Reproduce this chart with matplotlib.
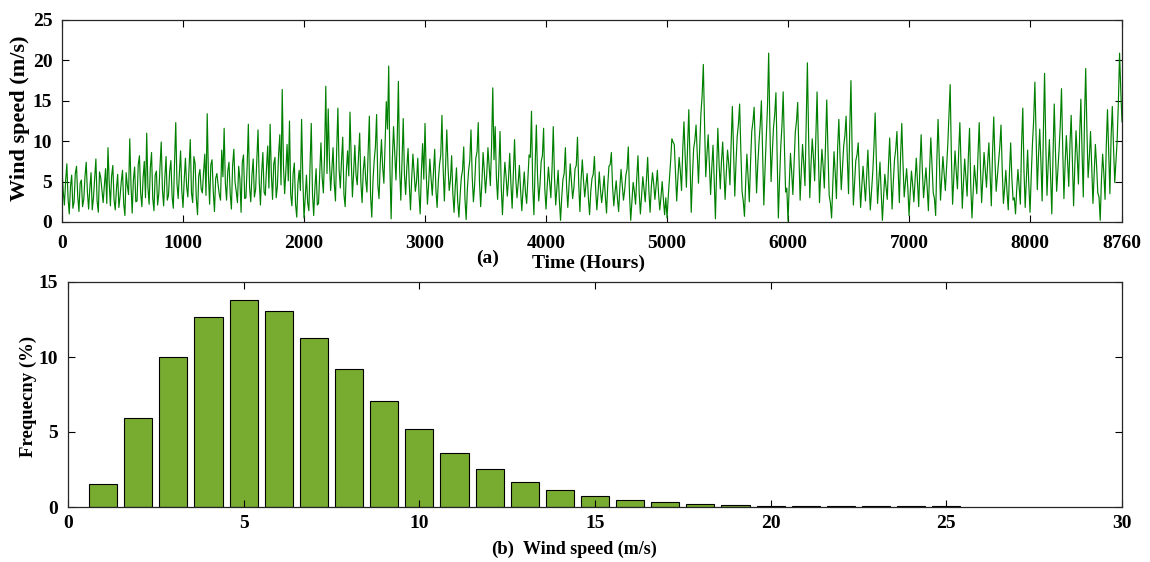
import numpy as np
import matplotlib
matplotlib.use("Agg")
import matplotlib.pyplot as plt

plt.rcParams['font.family'] = ['Liberation Serif', 'DejaVu Serif']
plt.rcParams['font.weight'] = 'bold'

# ---- wind speed samples (10-hour spacing) ----
# values at hours 0, 20, 40, ...
wind_speed_even = [
    # 0 - 980
    6.5, 2.1, 7.2, 1.0, 5.8, 2.5, 6.9, 1.3, 5.2, 2.8, 7.4, 1.6, 6.1, 3.0, 7.8, 1.2, 5.5, 2.4, 6.6, 9.2,
    2.0, 7.0, 1.5, 5.9, 3.2, 6.4, 0.8, 4.5, 10.3, 1.1, 6.8, 2.6, 8.2, 1.9, 7.5, 11.0, 2.2, 8.6, 1.4, 6.3,
    3.5, 9.9, 2.0, 8.1, 3.3, 7.6, 1.7, 12.3, 2.9, 8.8,
    # 1000 - 1980
    1.8, 7.9, 3.1, 10.2, 2.4, 7.2, 0.9, 6.5, 3.6, 8.4, 13.4, 2.2, 7.7, 1.3, 6.0, 3.4, 8.9, 11.6, 2.7, 7.4,
    1.6, 9.0, 3.8, 6.9, 1.2, 8.3, 3.0, 12.1, 2.5, 7.8, 4.0, 11.4, 2.1, 8.6, 3.3, 9.4, 12.1, 2.8, 8.0, 4.4,
    10.8, 16.4, 3.5, 9.6, 12.5, 2.0, 7.3, 0.6, 6.4, 12.7,
    # 2000 - 2980
    0.5, 5.8, 1.4, 12.2, 0.8, 6.6, 2.3, 9.8, 3.6, 16.8, 14.0, 3.9, 9.2, 2.6, 14.1, 4.2, 10.5, 1.9, 8.8, 13.6,
    3.1, 9.5, 4.6, 11.0, 2.4, 8.1, 3.7, 13.1, 0.6, 7.6, 13.3, 2.9, 10.2, 4.8, 14.9, 19.3, 0.4, 11.8, 5.2, 17.4,
    2.7, 12.8, 3.4, 9.1, 1.5, 8.4, 3.8, 7.9, 1.0, 9.7,
    # 3000 - 3980
    12.2, 2.2, 7.8, 3.3, 9.0, 1.8, 7.1, 13.2, 2.6, 11.4, 3.9, 8.2, 1.2, 6.7, 0.6, 5.5, 9.3, 0.3, 6.3, 11.4,
    2.5, 7.9, 12.3, 1.9, 8.6, 3.6, 9.2, 4.5, 16.6, 11.8, 2.8, 11.2, 0.9, 7.4, 3.2, 8.5, 1.7, 10.2, 3.0, 7.0,
    1.4, 6.2, 2.3, 8.3, 13.7, 0.9, 12.0, 2.6, 7.5, 11.6,
    # 4000 - 4980
    1.6, 6.8, 3.0, 11.8, 2.1, 6.4, 0.2, 5.3, 9.2, 1.8, 7.2, 2.9, 6.6, 10.5, 1.3, 7.7, 3.1, 6.0, 0.9, 5.4,
    8.1, 1.5, 6.2, 2.4, 5.7, 1.1, 6.9, 8.6, 2.0, 5.1, 1.3, 6.5, 2.7, 5.8, 9.3, 0.2, 4.9, 2.2, 8.2, 1.0,
    5.6, 2.5, 8.0, 1.2, 6.1, 2.8, 6.4, 1.5, 5.0, 0.9,
    # 5000 - 5980
    0.5, 5.4, 10.3, 9.6, 2.6, 8.0, 3.9, 12.4, 4.3, 13.9, 1.2, 9.1, 12.0, 4.8, 13.4, 19.5, 5.6, 10.8, 3.4, 9.5,
    0.4, 11.6, 4.1, 9.9, 2.8, 8.9, 4.6, 14.3, 3.2, 10.6, 14.6, 3.8, 0.7, 8.4, 2.5, 11.2, 14.2, 3.6, 9.8, 15.0,
    2.1, 10.4, 20.9, 5.0, 11.7, 16.0, 0.5, 9.3, 16.1, 3.7,
    # 6000 - 6980
    0.1, 8.5, 3.4, 11.1, 14.8, 2.7, 9.6, 4.5, 19.7, 3.0, 10.3, 5.1, 16.1, 2.4, 9.0, 4.2, 15.1, 3.3, 0.5, 8.7,
    2.9, 12.7, 4.0, 9.4, 13.1, 3.5, 17.5, 2.1, 7.6, 9.8, 1.8, 6.9, 2.6, 8.9, 1.5, 6.1, 13.5, 2.3, 7.4, 0.2,
    5.9, 2.8, 10.4, 1.6, 7.7, 11.2, 2.4, 12.2, 3.1, 6.6,
    # 7000 - 7980
    0.8, 6.3, 2.5, 7.9, 1.9, 10.8, 3.0, 6.7, 1.4, 10.4, 3.6, 0.8, 12.7, 2.7, 8.1, 3.9, 9.5, 17.0, 2.2, 8.8,
    4.1, 12.3, 1.7, 7.8, 3.2, 11.6, 0.5, 7.0, 3.5, 12.3, 2.4, 8.6, 4.3, 9.8, 2.0, 13.0, 3.8, 7.5, 12.0, 2.3,
    6.4, 1.5, 9.8, 2.7, 1.0, 6.5, 2.2, 14.1, 1.8, 8.9,
    # 8000 - 8760
    1.2, 9.7, 17.3, 4.0, 11.5, 2.6, 18.4, 3.3, 10.2, 1.0, 14.6, 3.8, 9.0, 16.5, 2.9, 10.7, 4.4, 13.2, 2.0, 11.3,
    4.7, 15.2, 3.1, 19.0, 5.5, 11.2, 2.3, 9.6, 3.6, 0.2, 8.4, 2.8, 13.9, 3.5, 14.3, 4.9, 10.1, 20.9, 12.4,
]
# values at hours 10, 30, 50, ...
wind_speed_odd = [
    # 10 - 990
    3.8, 5.1, 2.9, 4.4, 1.7, 6.0, 3.2, 4.8, 1.9, 5.6, 3.7, 4.2, 1.5, 5.3, 2.6, 6.2, 3.9, 4.5, 2.3, 4.9,
    5.7, 2.8, 4.1, 1.8, 5.0, 2.2, 6.1, 3.4, 4.6, 5.2, 2.5, 7.1, 3.6, 5.4, 3.0, 4.3, 6.7, 2.9, 5.8, 2.1,
    6.9, 4.0, 5.5, 2.7, 6.3, 3.1, 7.3, 4.8, 6.0, 3.9,
    # 1010 - 1990
    5.2, 4.4, 6.8, 3.6, 8.1, 2.9, 5.7, 4.1, 6.2, 3.3, 5.9, 7.1, 3.8, 5.4, 4.6, 2.7, 5.6, 4.8, 6.3, 3.5,
    7.0, 4.9, 2.4, 5.3, 7.4, 2.9, 6.9, 4.3, 5.8, 3.1, 7.6, 5.0, 6.1, 3.7, 6.7, 4.2, 5.9, 7.2, 3.0, 8.4,
    4.6, 7.0, 6.3, 5.1, 3.4, 6.0, 2.2, 4.8, 3.9, 5.5,
    # 2010 - 2990
    3.0, 2.4, 7.1, 3.5, 4.2, 2.1, 6.2, 5.5, 8.3, 6.0, 7.7, 6.4, 4.8, 8.9, 6.5, 7.6, 3.4, 6.3, 5.7, 7.9,
    6.1, 5.8, 8.0, 4.9, 6.4, 5.2, 8.7, 3.3, 5.1, 9.3, 4.6, 7.2, 6.8, 9.6, 11.5, 6.7, 7.8, 8.5, 9.9, 6.6,
    7.5, 5.9, 6.8, 4.7, 5.4, 6.1, 5.0, 3.6, 6.2, 5.3,
    # 3010 - 3990
    6.0, 4.7, 5.4, 6.2, 4.0, 5.1, 8.3, 6.5, 7.0, 6.8, 5.2, 3.5, 4.4, 2.6, 3.3, 6.4, 2.9, 4.1, 7.6, 5.6,
    4.6, 8.7, 5.0, 4.9, 6.3, 5.8, 6.9, 9.4, 7.7, 5.5, 6.6, 4.3, 4.5, 5.6, 5.3, 4.7, 6.1, 5.4, 4.8, 3.9,
    4.0, 3.7, 5.2, 8.0, 4.4, 6.9, 5.7, 4.6, 8.2, 4.1,
    # 4010 - 4990
    4.5, 4.9, 6.7, 5.5, 4.3, 2.8, 3.1, 6.0, 4.4, 4.6, 5.0, 4.2, 7.0, 4.8, 5.3, 5.1, 4.7, 3.0, 3.8, 5.9,
    4.1, 3.6, 4.0, 3.9, 3.2, 4.5, 7.1, 4.4, 3.7, 2.9, 4.2, 4.6, 3.9, 6.6, 3.4, 2.6, 3.8, 5.5, 3.6, 3.4,
    4.1, 5.2, 3.9, 4.3, 4.7, 4.5, 3.5, 3.1, 2.8, 3.0,
    # 5010 - 5990
    3.1, 7.6, 9.9, 6.2, 5.5, 6.3, 9.0, 8.1, 9.4, 7.4, 5.6, 10.1, 8.3, 9.2, 15.6, 12.2, 8.4, 7.0, 6.7, 5.2,
    6.5, 7.3, 7.5, 6.4, 6.1, 7.2, 9.8, 8.6, 7.3, 12.1, 8.9, 2.6, 4.9, 5.6, 7.2, 12.4, 8.7, 7.1, 12.0, 8.3,
    6.6, 14.2, 11.8, 8.6, 13.3, 7.9, 5.2, 12.0, 9.4, 4.2,
    # 6010 - 6990
    4.6, 6.2, 7.4, 12.5, 8.3, 6.4, 7.2, 11.8, 10.6, 7.1, 8.0, 10.4, 8.9, 6.0, 6.9, 9.6, 8.8, 2.4, 4.7, 6.1,
    9.2, 8.0, 6.8, 10.7, 7.9, 11.5, 8.6, 4.9, 8.3, 5.4, 4.5, 4.8, 5.9, 4.7, 3.8, 9.3, 7.6, 5.0, 3.6, 3.2,
    4.4, 7.0, 5.8, 4.9, 9.0, 6.5, 8.1, 7.3, 4.9, 4.2,
    # 7010 - 7990
    3.7, 4.6, 5.3, 4.8, 6.9, 6.4, 4.9, 4.2, 6.5, 7.1, 2.9, 7.8, 7.5, 5.5, 6.0, 6.8, 13.2, 8.1, 5.6, 6.3,
    8.5, 6.9, 4.9, 5.4, 8.0, 4.6, 3.9, 5.2, 8.4, 6.7, 5.6, 6.5, 7.4, 5.9, 8.6, 7.7, 5.6, 9.3, 6.6, 4.2,
    3.7, 6.1, 5.4, 3.0, 4.1, 4.3, 9.6, 6.3, 5.5, 4.6,
    # 8010 - 8750
    5.7, 12.6, 10.5, 8.2, 7.4, 10.9, 9.8, 7.1, 5.4, 8.3, 8.7, 6.4, 12.0, 9.1, 7.3, 7.6, 9.7, 7.5, 6.9, 8.2,
    10.8, 8.6, 12.7, 11.3, 8.0, 6.6, 5.8, 7.0, 3.1, 5.2, 6.0, 9.4, 8.8, 10.6, 9.2, 7.4, 14.8, 16.2,
]
sample_step = 10  # hours between samples

wind_speed = np.empty(len(wind_speed_even) + len(wind_speed_odd))
wind_speed[0::2] = wind_speed_even
wind_speed[1::2] = wind_speed_odd
hours = np.arange(len(wind_speed)) * sample_step

time_ticks = [0, 1000, 2000, 3000, 4000, 5000, 6000, 7000, 8000, 8760]
speed_ticks_a = [0, 5, 10, 15, 20, 25]

# ---- frequency distribution ----
bins = list(range(1, 26))
frequency = [1.54, 5.91, 9.97, 12.66, 13.79, 13.08, 11.29, 9.18, 7.04, 5.23,
             3.57, 2.56, 1.70, 1.12, 0.72, 0.46, 0.33, 0.20, 0.13, 0.10,
             0.08, 0.05, 0.04, 0.04, 0.04]
wind_ticks_b = [0, 5, 10, 15, 20, 25, 30]
freq_ticks = [0, 5, 10, 15]

fig = plt.figure(figsize=(11.5, 5.62), dpi=100)

tick_fs = 14

def style(ax, xpad):
    ax.tick_params(direction='in', top=True, right=True, length=5, width=0.8,
                   labelsize=tick_fs)
    ax.tick_params(axis='x', pad=xpad)
    ax.tick_params(axis='y', pad=7)
    for s in ax.spines.values():
        s.set_linewidth(0.9)
        s.set_color('#262626')
    for lab in ax.get_xticklabels() + ax.get_yticklabels():
        lab.set_fontweight('bold')

# top panel
ax1 = fig.add_axes([62/1150, 1-222/562, 1060/1150, 202/562])
ax1.plot(hours, wind_speed, color='#008000', linewidth=0.85)
ax1.set_xlim(0, 8760)
ax1.set_ylim(0, 25)
ax1.set_xticks(time_ticks)
ax1.set_yticks(speed_ticks_a)
style(ax1, 9)
fig.text(20/1150, 1-118/562, 'Wind speed (m/s)', rotation=90, ha='center', va='center',
         fontsize=16, fontweight='bold')
fig.text(488/1150, 1-258/562, '(a)', ha='center', va='center', fontsize=14, fontweight='bold')
fig.text(588/1150, 1-263/562, 'Time (Hours)', ha='center', va='center', fontsize=14, fontweight='bold')

# bottom panel
ax2 = fig.add_axes([68/1150, 1-507/562, 1054/1150, 225/562])
ax2.bar(bins, frequency, width=0.8, color='#77AC30', edgecolor='black', linewidth=0.8)
ax2.set_xlim(0, 30)
ax2.set_ylim(0, 15)
ax2.set_xticks(wind_ticks_b)
ax2.set_yticks(freq_ticks)
style(ax2, 6)
fig.text(28/1150, 1-396/562, 'Frequecny (%)', rotation=90, ha='center', va='center',
         fontsize=13.5, fontweight='bold')
fig.text(503/1150, 1-549/562, '(b)', ha='center', va='center', fontsize=13.5, fontweight='bold')
fig.text(590/1150, 1-549/562, 'Wind speed (m/s)', ha='center', va='center', fontsize=13, fontweight='bold')

fig.savefig('out.png', dpi=100)
